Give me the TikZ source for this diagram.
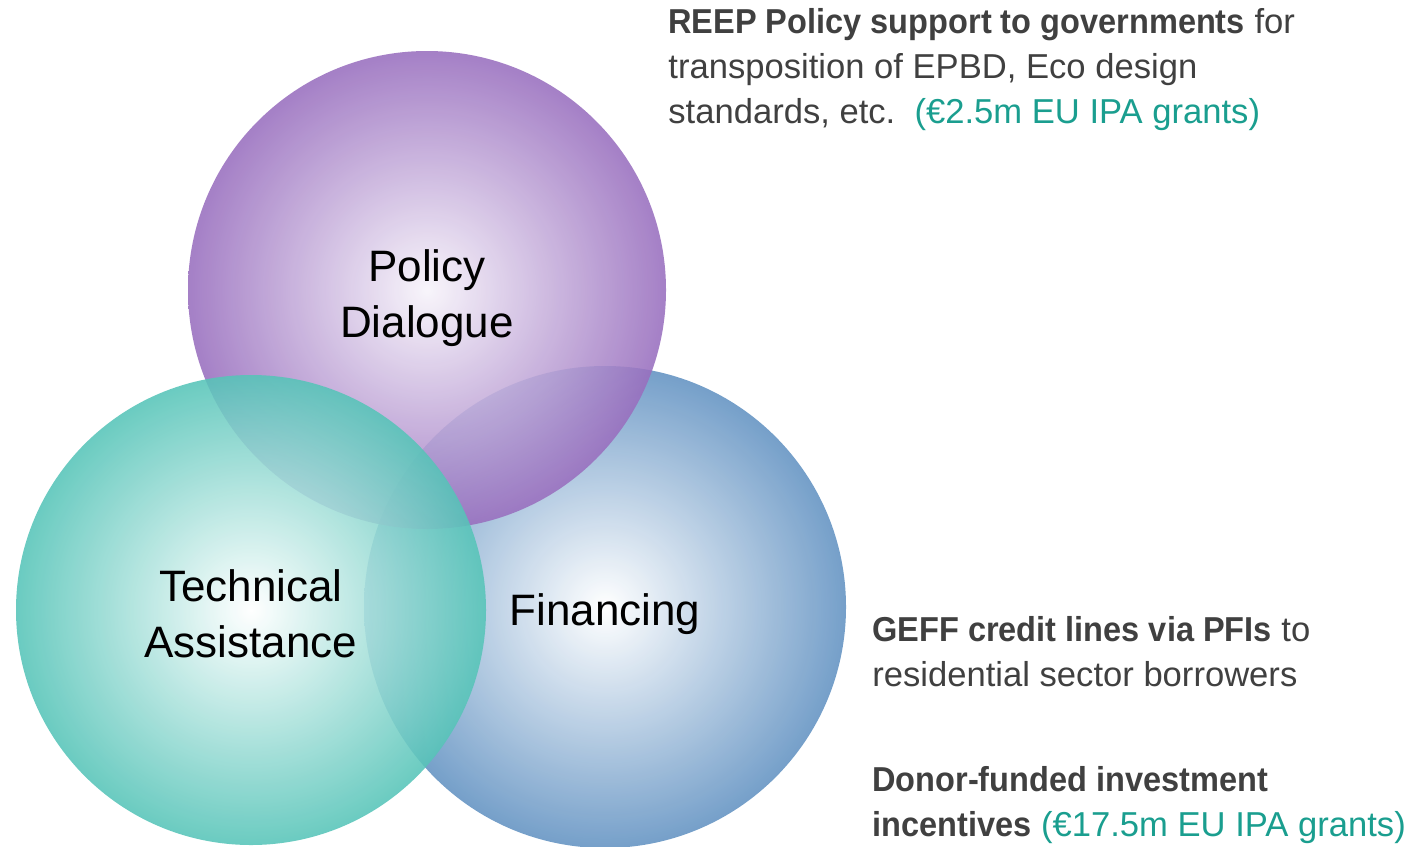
\documentclass[tikz,border=0pt]{standalone}
\usepackage{fontspec}
\setmainfont{Liberation Sans}[BoldFeatures={FakeStretch=0.94}]
\definecolor{pedge}{RGB}{152,110,190}
\definecolor{tedge}{RGB}{86,196,184}
\definecolor{bedge}{RGB}{98,146,194}
\definecolor{txtgray}{RGB}{64,64,64}
\definecolor{grant}{RGB}{26,158,143}
\begin{document}
\begin{tikzpicture}[x=0.5pt,y=-0.5pt,
  venn/.style={circle, inner sep=0pt, minimum size=#1, shading=radial,
    fill opacity=0.88},
  vlabel/.style={align=center, inner sep=0pt, text=black,
    font=\fontsize{22}{28}\selectfont},
  info/.style={align=left, inner sep=0pt, text=txtgray,
    font=\fontsize{17.3}{22.5}\selectfont}]
\useasboundingbox (0,0) rectangle (1407,846);
\node[venn=241pt, inner color=white, outer color=bedge] (fin) at (605,607) {};
\node[venn=239pt, inner color=white!92!pedge, outer color=pedge] (pol) at (427,290) {};
\node[venn=235pt, inner color=white, outer color=tedge] (tech) at (251,610) {};
\node[vlabel] (fint) at (605,614) {Financing};
\node[vlabel] (polt) at (427,298) {Policy\\Dialogue};
\node[vlabel] (techt) at (251,614) {Technical\\Assistance};
\node[info, anchor=base west] (reep) at (668,123) {\textbf{REEP Policy support to governments} for\\transposition of EPBD, Eco design\\standards, etc.\ \ \textcolor{grant}{(€2.5m EU IPA grants)}};
\node[info, anchor=base west] (geff) at (872,686) {\textbf{GEFF credit lines via PFIs} to\\residential sector borrowers};
\node[info, anchor=base west] (donor) at (872,836) {\textbf{Donor-funded investment}\\\textbf{incentives} \textcolor{grant}{(€17.5m EU IPA grants)}};
\end{tikzpicture}
\end{document}
